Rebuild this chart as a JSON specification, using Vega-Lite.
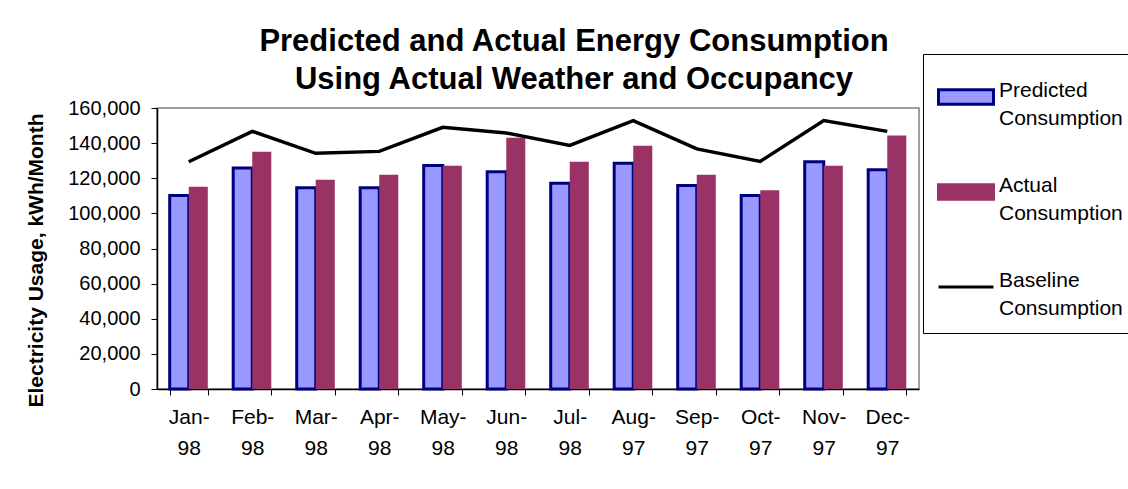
{
  "$schema": "https://vega.github.io/schema/vega-lite/v6.json",
  "width": 762,
  "height": 281,
  "autosize": "none",
  "padding": {"left": 157, "top": 108, "right": 209, "bottom": 100},
  "background": "white",
  "config": {
    "font": "Liberation Sans",
    "view": {"stroke": "#808080", "strokeWidth": 1.5},
    "style": {"guide-label": {"lineHeight": 28}}
  },
  "title": {
    "text": ["Predicted and Actual Energy Consumption", "Using Actual Weather and Occupancy"],
    "fontSize": 31,
    "fontWeight": "bold",
    "lineHeight": 38,
    "anchor": "middle",
    "dx": 36,
    "offset": -42,
    "color": "black"
  },
  "layer": [
    {
      "data": {
        "values": [
          {"month": "Jan-98", "series": "Predicted Consumption", "value": 110200},
          {"month": "Jan-98", "series": "Actual Consumption", "value": 115200},
          {"month": "Feb-98", "series": "Predicted Consumption", "value": 125800},
          {"month": "Feb-98", "series": "Actual Consumption", "value": 135100},
          {"month": "Mar-98", "series": "Predicted Consumption", "value": 114600},
          {"month": "Mar-98", "series": "Actual Consumption", "value": 119200},
          {"month": "Apr-98", "series": "Predicted Consumption", "value": 114600},
          {"month": "Apr-98", "series": "Actual Consumption", "value": 122000},
          {"month": "May-98", "series": "Predicted Consumption", "value": 127300},
          {"month": "May-98", "series": "Actual Consumption", "value": 127100},
          {"month": "Jun-98", "series": "Predicted Consumption", "value": 123700},
          {"month": "Jun-98", "series": "Actual Consumption", "value": 143100},
          {"month": "Jul-98", "series": "Predicted Consumption", "value": 117200},
          {"month": "Jul-98", "series": "Actual Consumption", "value": 129400},
          {"month": "Aug-97", "series": "Predicted Consumption", "value": 128500},
          {"month": "Aug-97", "series": "Actual Consumption", "value": 138500},
          {"month": "Sep-97", "series": "Predicted Consumption", "value": 115900},
          {"month": "Sep-97", "series": "Actual Consumption", "value": 122000},
          {"month": "Oct-97", "series": "Predicted Consumption", "value": 110200},
          {"month": "Oct-97", "series": "Actual Consumption", "value": 113100},
          {"month": "Nov-97", "series": "Predicted Consumption", "value": 129400},
          {"month": "Nov-97", "series": "Actual Consumption", "value": 127100},
          {"month": "Dec-97", "series": "Predicted Consumption", "value": 124800},
          {"month": "Dec-97", "series": "Actual Consumption", "value": 144400}
        ]
      },
      "mark": {"type": "bar"},
      "encoding": {
        "x": {
          "field": "month",
          "type": "nominal",
          "sort": ["Jan-98", "Feb-98", "Mar-98", "Apr-98", "May-98", "Jun-98", "Jul-98", "Aug-97", "Sep-97", "Oct-97", "Nov-97", "Dec-97"],
          "scale": {"paddingInner": 0.4, "paddingOuter": 0.2},
          "axis": {
            "title": null,
            "labelAngle": 0,
            "labelFontSize": 21,
            "labelLineHeight": 31,
            "labelExpr": "[slice(datum.label, 0, 4), slice(datum.label, 4)]",
            "tickBand": "extent",
            "tickSize": 6,
            "labelPadding": 11,
            "domainColor": "black",
            "tickColor": "black",
            "labelColor": "black",
            "domainWidth": 1.5
          }
        },
        "xOffset": {
          "field": "series",
          "sort": ["Predicted Consumption", "Actual Consumption"],
          "scale": {"paddingInner": 0, "paddingOuter": 0}
        },
        "y": {
          "field": "value",
          "type": "quantitative",
          "scale": {"domain": [0, 160000]},
          "axis": {
            "title": "Electricity Usage, kWh/Month",
            "titleFontSize": 21,
            "titleFontWeight": "bold",
            "titleColor": "black",
            "titlePadding": 21,
            "titleY": 152,
            "format": ",.0f",
            "values": [0, 20000, 40000, 60000, 80000, 100000, 120000, 140000, 160000],
            "labelFontSize": 20,
            "labelColor": "black",
            "tickSize": 6,
            "labelPadding": 11,
            "grid": false,
            "domainColor": "black",
            "tickColor": "black",
            "domainWidth": 1.5
          }
        },
        "color": {
          "field": "series",
          "type": "nominal",
          "scale": {
            "domain": ["Predicted Consumption", "Actual Consumption", "Baseline Consumption"],
            "range": ["#9999FF", "#993366", "#000000"]
          },
          "legend": {
            "title": null,
            "orient": "none",
            "legendX": 766,
            "legendY": -54,
            "padding": 14,
            "strokeColor": "black",
            "fillColor": "white",
            "labelFontSize": 21,
            "labelColor": "black",
            "labelLimit": 300,
            "symbolSize": 3025,
            "labelOffset": 4,
            "rowPadding": 34,
            "labelBaseline": "alphabetic",
            "labelExpr": "split(datum.label, ' ')",
            "symbolOpacity": 1,
            "symbolStrokeWidth": 3,
            "symbolType": {"expr": "datum.value === 'Baseline Consumption' ? 'stroke' : 'M-1,-0.26H1V0.26H-1Z'"},
            "symbolStrokeColor": {"expr": "datum.value === 'Predicted Consumption' ? '#000080' : datum.value === 'Actual Consumption' ? '#993366' : '#000000'"}
          }
        },
        "stroke": {"value": "#000080"},
        "strokeWidth": {
          "condition": {"test": "datum.series === 'Predicted Consumption'", "value": 3},
          "value": 0
        }
      }
    },
    {
      "data": {
        "values": [
          {"month": "Jan-98", "baseline": 129400},
          {"month": "Feb-98", "baseline": 146700},
          {"month": "Mar-98", "baseline": 134200},
          {"month": "Apr-98", "baseline": 135300},
          {"month": "May-98", "baseline": 149000},
          {"month": "Jun-98", "baseline": 145800},
          {"month": "Jul-98", "baseline": 138700},
          {"month": "Aug-97", "baseline": 152800},
          {"month": "Sep-97", "baseline": 136700},
          {"month": "Oct-97", "baseline": 129600},
          {"month": "Nov-97", "baseline": 152800},
          {"month": "Dec-97", "baseline": 146700}
        ]
      },
      "mark": {"type": "line", "strokeWidth": 3.5, "color": "black"},
      "encoding": {
        "x": {
          "field": "month",
          "type": "nominal",
          "sort": ["Jan-98", "Feb-98", "Mar-98", "Apr-98", "May-98", "Jun-98", "Jul-98", "Aug-97", "Sep-97", "Oct-97", "Nov-97", "Dec-97"]
        },
        "y": {
          "field": "baseline",
          "type": "quantitative",
          "scale": {"domain": [0, 160000]},
          "axis": {
            "title": "Electricity Usage, kWh/Month",
            "titleFontSize": 21,
            "titleFontWeight": "bold",
            "titleColor": "black",
            "titlePadding": 21,
            "titleY": 152,
            "format": ",.0f",
            "values": [0, 20000, 40000, 60000, 80000, 100000, 120000, 140000, 160000],
            "labelFontSize": 20,
            "labelColor": "black",
            "tickSize": 6,
            "labelPadding": 11,
            "grid": false,
            "domainColor": "black",
            "tickColor": "black",
            "domainWidth": 1.5
          }
        }
      }
    }
  ]
}
